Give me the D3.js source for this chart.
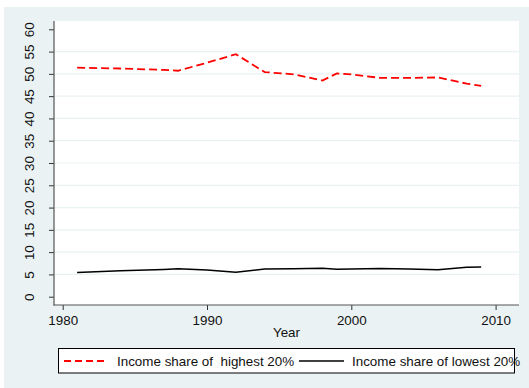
<!DOCTYPE html>
<html>
<head>
<meta charset="utf-8">
<script src="https://cdn.jsdelivr.net/npm/d3@7"></script>
<style>
  html, body { margin: 0; padding: 0; background: #ffffff; }
  svg { display: block; font-family: "Liberation Sans", Arial, sans-serif; }
</style>
</head>
<body>
<svg id="chart" width="529" height="388"></svg>
<script>
const yearsHigh = [1981, 1984, 1987, 1988, 1990, 1992, 1994, 1996, 1998, 1999, 2000, 2002, 2004, 2006, 2008, 2009];
const valuesHigh = [51.4, 51.2, 50.9, 50.7, 52.5, 54.4, 50.4, 49.9, 48.5, 50.1, 49.9, 49.1, 49.1, 49.2, 47.8, 47.3];
const yearsLow = [1981, 1984, 1987, 1988, 1990, 1992, 1994, 1996, 1998, 1999, 2000, 2002, 2004, 2006, 2008, 2009];
const valuesLow = [5.45, 5.8, 6.1, 6.25, 6.0, 5.5, 6.2, 6.25, 6.4, 6.15, 6.2, 6.35, 6.2, 6.05, 6.6, 6.65];
const yTicks = [0, 5, 10, 15, 20, 25, 30, 35, 40, 45, 50, 55, 60];
const yGrid = [5, 10, 15, 20, 25, 30, 35, 40, 45, 50, 55];
const xTicks = [1980, 1990, 2000, 2010];
const seriesNames = ["Income share of  highest 20%", "Income share of lowest 20%"];
const xTitle = "Year";

const FS = 13.4;
const svg = d3.select("#chart");
const plot = { left: 54, right: 519, top: 21, bottom: 305 };

// outer background
svg.append("rect").attr("x", 4).attr("y", 7).attr("width", 525).attr("height", 381).attr("fill", "#eaf2f3");
// plot region
svg.append("rect").attr("x", plot.left).attr("y", plot.top)
  .attr("width", plot.right - plot.left).attr("height", plot.bottom - plot.top).attr("fill", "#ffffff");

const x = d3.scaleLinear().domain([1980, 2010]).range([62.7, 495.6]);
const y = d3.scaleLinear().domain([0, 60]).range([296.7, 29.3]);

// grid
svg.append("g").selectAll("line").data(yGrid).join("line")
  .attr("x1", plot.left).attr("x2", plot.right)
  .attr("y1", d => y(d)).attr("y2", d => y(d))
  .attr("stroke", "#eaf2f3").attr("stroke-width", 1.2);

// y axis
const yAxis = svg.append("g").attr("transform", `translate(${plot.left},0)`)
  .call(d3.axisLeft(y).tickValues(yTicks).tickSize(5).tickSizeOuter(0).tickFormat(d3.format("d")));
yAxis.select(".domain").remove();
yAxis.selectAll(".tick line").attr("stroke", "#333").attr("stroke-width", 1);
yAxis.selectAll(".tick text")
  .attr("x", null).attr("dy", null)
  .attr("transform", "translate(-20.5,0) rotate(-90)")
  .attr("text-anchor", "middle")
  .attr("font-size", FS).attr("fill", "#111")
  .attr("font-family", "Liberation Sans, Arial, sans-serif");
svg.append("line").attr("x1", plot.left).attr("x2", plot.left)
  .attr("y1", plot.top).attr("y2", plot.bottom + 0.5)
  .attr("stroke", "#555").attr("stroke-width", 1.2);

// x axis
const xAxis = svg.append("g").attr("transform", `translate(0,${plot.bottom})`)
  .call(d3.axisBottom(x).tickValues(xTicks).tickSize(5).tickSizeOuter(0).tickFormat(d3.format("d")));
xAxis.select(".domain").remove();
xAxis.selectAll(".tick line").attr("stroke", "#333").attr("stroke-width", 1);
xAxis.selectAll(".tick text")
  .attr("y", 20).attr("dy", null)
  .attr("font-size", FS).attr("fill", "#111")
  .attr("font-family", "Liberation Sans, Arial, sans-serif");
svg.append("line").attr("x1", plot.left - 0.5).attr("x2", plot.right)
  .attr("y1", plot.bottom).attr("y2", plot.bottom)
  .attr("stroke", "#555").attr("stroke-width", 1.2);

svg.append("text").attr("x", (plot.left + plot.right) / 2).attr("y", 337)
  .attr("text-anchor", "middle").attr("font-size", FS).attr("fill", "#111").text(xTitle);

// lines
const lineHigh = d3.line().x((d, i) => x(yearsHigh[i])).y(d => y(d));
const lineLow = d3.line().x((d, i) => x(yearsLow[i])).y(d => y(d));
svg.append("path").datum(valuesHigh).attr("d", lineHigh)
  .attr("fill", "none").attr("stroke", "#ff0000").attr("stroke-width", 1.8)
  .attr("stroke-dasharray", "8,4");
svg.append("path").datum(valuesLow).attr("d", lineLow)
  .attr("fill", "none").attr("stroke", "#000").attr("stroke-width", 1.5);

// legend
const lg = svg.append("g");
lg.append("rect").attr("x", 58.5).attr("y", 348.5).attr("width", 456).attr("height", 24.5)
  .attr("fill", "#ffffff").attr("stroke", "#000").attr("stroke-width", 1);
lg.append("line").attr("x1", 64).attr("x2", 106).attr("y1", 361).attr("y2", 361)
  .attr("stroke", "#ff0000").attr("stroke-width", 1.8).attr("stroke-dasharray", "7,4");
lg.append("text").attr("x", 117).attr("y", 366).attr("font-size", FS).attr("fill", "#111")
  .attr("xml:space", "preserve").style("white-space", "pre").text(seriesNames[0]);
lg.append("line").attr("x1", 299).attr("x2", 344).attr("y1", 361).attr("y2", 361)
  .attr("stroke", "#000").attr("stroke-width", 1.5);
lg.append("text").attr("x", 352).attr("y", 366).attr("font-size", FS).attr("fill", "#111")
  .text(seriesNames[1]);
</script>
</body>
</html>
